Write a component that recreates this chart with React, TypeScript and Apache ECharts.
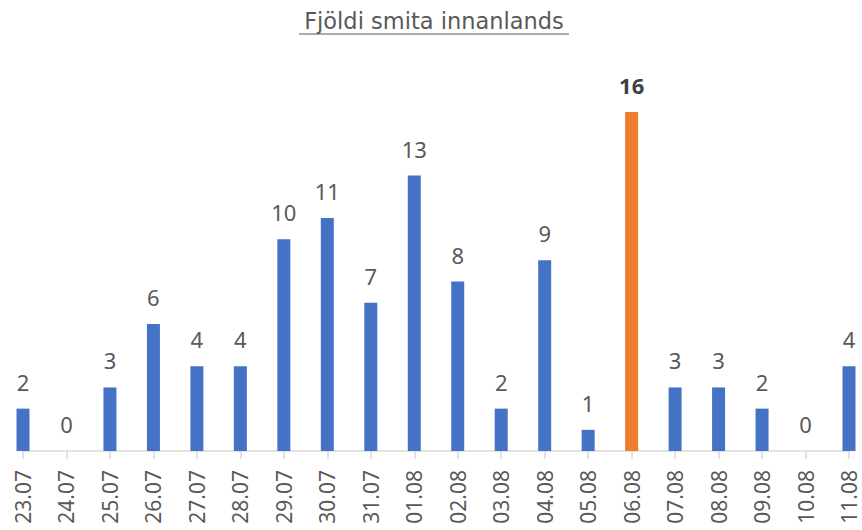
import React, { useEffect, useRef } from "react";
import * as echarts from "echarts";

const categories = ["23.07","24.07","25.07","26.07","27.07","28.07","29.07","30.07","31.07","01.08","02.08","03.08","04.08","05.08","06.08","07.08","08.08","09.08","10.08","11.08"];
const values = [2,0,3,6,4,4,10,11,7,13,8,2,9,1,16,3,3,2,0,4];
const highlightCategory = "06.08";
const titleText = "Fjöldi smita innanlands";

export default function App() {
  const ref = useRef<HTMLDivElement>(null);
  useEffect(() => {
    if (!ref.current) return;
    const chart = echarts.init(ref.current, undefined, { renderer: "svg" });
    const font = "'Noto Sans', 'Open Sans', sans-serif";
    const data = values.map((v, i) =>
      categories[i] === highlightCategory
        ? {
            value: v,
            itemStyle: { color: "#ED7D31" },
            label: { fontWeight: "bold", color: "#404040" },
          }
        : { value: v }
    );
    chart.setOption({
      animation: false,
      backgroundColor: "#ffffff",
      grid: { left: 23, right: 13, top: 112, bottom: 79, containLabel: false },
      graphic: [
        {
          type: "text",
          x: 434,
          y: 21,
          style: {
            text: titleText,
            fontSize: 22.5,
            fontFamily: "'DejaVu Sans', sans-serif",
            fill: "#595959",
            textAlign: "center",
            textVerticalAlign: "middle",
          },
        },
        {
          type: "line",
          shape: { x1: 299, y1: 34, x2: 569, y2: 34 },
          style: { stroke: "#595959", lineWidth: 1 },
        },
      ],
      xAxis: {
        type: "category",
        data: categories,
        boundaryGap: false,
        axisLine: { lineStyle: { color: "#D9D9D9", width: 1.5 } },
        axisTick: { show: true, length: 8, lineStyle: { color: "#D9D9D9", width: 1.5 } },
        axisLabel: {
          rotate: 90,
          margin: 19,
          fontSize: 21,
          lineHeight: 20,
          fontFamily: font,
          color: "#595959",
          interval: 0,
        },
      },
      yAxis: {
        type: "value",
        min: 0,
        max: 16,
        show: false,
        splitLine: { show: false },
      },
      series: [
        {
          type: "bar",
          data,
          barWidth: 13,
          itemStyle: { color: "#4472C4" },
          label: {
            show: true,
            position: "top",
            distance: 16,
            fontSize: 22,
            fontFamily: font,
            color: "#595959",
          },
        },
      ],
    });
    return () => chart.dispose();
  }, []);
  return <div ref={ref} style={{ width: 862, height: 530, position: "absolute", left: 0, top: 0 }} />;
}
